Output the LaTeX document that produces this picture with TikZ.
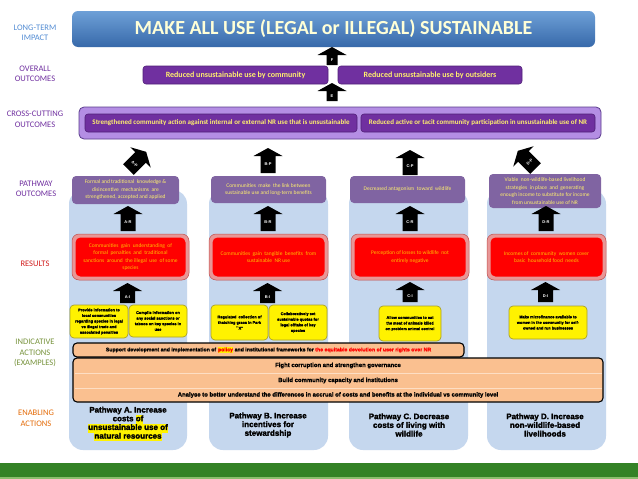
\documentclass[tikz,border=0pt]{standalone}
\usepackage{fontspec}
\setmainfont{Carlito}
\newfontfamily\arialf{Liberation Sans}
\newfontfamily\heavyf{Liberation Sans}[BoldFeatures={FakeBold=2}]
\newfontfamily\heavyg{Liberation Sans}[BoldFeatures={FakeBold=1.2}]
\definecolor{colblue}{RGB}{197,215,238}
\definecolor{pobg}{RGB}{128,100,162}
\definecolor{ovp}{RGB}{112,48,160}
\definecolor{ovpb}{RGB}{80,32,120}
\definecolor{lav}{RGB}{180,142,228}
\definecolor{lavb}{RGB}{90,60,140}
\definecolor{ytext}{RGB}{255,240,110}
\definecolor{otext}{RGB}{255,192,0}
\definecolor{rring}{RGB}{232,150,150}
\definecolor{rborder}{RGB}{192,80,77}
\definecolor{ybord}{RGB}{170,160,40}
\definecolor{peach}{RGB}{250,192,144}
\definecolor{peachl}{RGB}{253,222,196}
\definecolor{gbar}{RGB}{52,130,38}
\definecolor{gbarl}{RGB}{140,190,110}
\definecolor{ltblue}{RGB}{84,141,212}
\definecolor{lblpurple}{RGB}{112,48,160}
\definecolor{lblred}{RGB}{210,30,30}
\definecolor{lblgreen}{RGB}{119,147,60}
\definecolor{lblorange}{RGB}{228,108,10}
\definecolor{titletop}{RGB}{110,160,215}
\definecolor{titlebot}{RGB}{55,105,170}
\definecolor{titletext}{RGB}{255,255,215}
\newcommand\hlt[1]{{\setlength\fboxsep{0pt}\colorbox{yellow}{\strut#1}}}
\newcommand\barrow[7]{%
 \begin{scope}[shift={(#1,#2)},rotate=#3]
  \fill[black] (-#7,0) -- (-#7,-#6+8) -- (-14.5,-#6+8) -- (0,-#6) -- (14.5,-#6+8) -- (#7,-#6+8) -- (#7,0) -- cycle;
  \node[albl,rotate=#3] (#4) at (0,-#6/2+4) {#5};
 \end{scope}}
\begin{document}
\begin{tikzpicture}[x=1pt,y=-1pt,
 every node/.style={inner sep=0pt},
 col/.style={fill=colblue, rounded corners=14, minimum width=118, minimum height=260},
 pobox/.style={fill=pobg, rounded corners=4, text=ytext, align=center, font=\fontsize{5.5}{7.5}\selectfont},
 ovbox/.style={fill=ovp, draw=ovpb, line width=0.6, rounded corners=3, text=ytext, align=center, font=\bfseries\fontsize{8}{9}\selectfont},
 ccbox/.style={fill=ovp, draw=ovpb, line width=0.6, rounded corners=3, text=ytext, align=center, font=\bfseries\fontsize{7}{8}\selectfont},
 rout/.style={fill=rring, draw=rborder, line width=0.5, rounded corners=7},
 rin/.style={fill=red, rounded corners=5, text=otext, align=center, font=\fontsize{5.5}{7.4}\selectfont},
 actbox/.style={fill=yellow, draw=ybord, line width=0.7, rounded corners=4, align=center, font=\heavyg\bfseries\fontsize{3.9}{5.6}\selectfont},
 bar/.style={fill=peach, draw=black, line width=1.1, rounded corners=4},
 bartext/.style={font=\heavyg\bfseries\fontsize{5.95}{7}\selectfont},
 lbl/.style={align=center, font=\fontsize{8.5}{10.5}\selectfont},
 albl/.style={text=white, font=\arialf\bfseries\fontsize{4}{4}\selectfont},
 enab/.style={align=center, font=\heavyf\bfseries\fontsize{8}{8.7}\selectfont}]
\useasboundingbox (0,0) rectangle (638,479);
\fill[white] (0,0) rectangle (638,479);
% green bar
\fill[gbar] (0,463) rectangle (638,476.5);
\fill[gbarl] (0,476.5) rectangle (638,479);
% left labels
\node[lbl, text=ltblue] (lLT) at (35,33) {LONG-TERM\\IMPACT};
\node[lbl, text=lblpurple] (lOO) at (35,74) {OVERALL\\OUTCOMES};
\node[lbl, text=lblpurple] (lCC) at (35,119.5) {CROSS-CUTTING\\OUTCOMES};
\node[lbl, text=lblpurple] (lPO) at (36,189) {PATHWAY\\OUTCOMES};
\node[lbl, text=lblred] (lRE) at (35,264) {RESULTS};
\node[lbl, text=lblgreen] (lIA) at (35,353) {INDICATIVE\\ACTIONS\\(EXAMPLES)};
\node[lbl, text=lblorange] (lEA) at (36,418.5) {ENABLING\\ACTIONS};
% title
\node[rounded corners=6, top color=titletop, bottom color=titlebot, minimum width=523, minimum height=36, text=titletext, font=\bfseries\fontsize{20}{23}\selectfont] (title) at (333.5,29) {MAKE ALL USE (LEGAL or ILLEGAL) SUSTAINABLE};
% F and E arrows
\barrow{332}{65}{0}{arF}{F}{18}{5.5}
\barrow{332}{101}{0}{arE}{E}{18}{5.5}
% overall outcomes
\node[ovbox, minimum width=185, minimum height=18] (ovL) at (235.5,75) {Reduced unsustainable use by community};
\node[ovbox, minimum width=184, minimum height=18] (ovR) at (430,75) {Reduced unsustainable use by outsiders};
% cross-cutting
\node[fill=lav, draw=lavb, line width=0.8, rounded corners=5, minimum width=522, minimum height=32] (cc) at (340,123) {};
\node[ccbox, minimum width=272, minimum height=18] (ccL) at (221,123) {Strengthened community action against internal or external NR use that is unsustainable};
\node[ccbox, minimum width=234, minimum height=18] (ccR) at (478,123) {Reduced active or tacit community participation in unsustainable use of NR};
% columns
\node[col] (colA) at (128,320) {};
\node[col, minimum width=119] (colB) at (268.5,320) {};
\node[col, minimum width=119] (colC) at (408.5,320) {};
\node[col, minimum width=119] (colD) at (546.5,320) {};
% pathway arrows
\barrow{128.5}{169.5}{-45}{arAP}{A-P}{25}{7.5}
\barrow{268}{173}{0}{arBP}{B-P}{25}{7.5}
\barrow{410}{175}{0}{arCP}{C-P}{25}{7.5}
\barrow{535.5}{168.5}{45}{arDP}{D-P}{25}{7.5}
% pathway outcomes
\node[pobox, minimum width=107, minimum height=28] (pA) at (125.5,190) {Formal and traditional \ knowledge \&\\disincentive \ mechanisms \ are\\strengthened, accepted and applied};
\node[pobox, minimum width=115, minimum height=27] (pB) at (268.5,189.5) {Communities \ make \ the link between\\sustainable use and long-term benefits};
\node[pobox, minimum width=115, minimum height=27] (pC) at (407.5,189.5) {Decreased antagonism \ toward \ wildlife};
\node[pobox, minimum width=112, minimum height=34] (pD) at (545,191) {Viable \ non-wildlife-based livelihood\\strategies \ in place \ and \ generating\\enough income to substitute for income\\from unsustainable use of NR};
% result arrows
\barrow{128}{231}{0}{arAR}{A-R}{25}{7.5}
\barrow{268}{231}{0}{arBR}{B-R}{25}{7.5}
\barrow{410}{231}{0}{arCR}{C-R}{25}{7.5}
\barrow{546}{231}{0}{arDR}{D-R}{25}{7.5}
% results
\node[rout, minimum width=117, minimum height=46] (rA) at (130.5,257) {};
\node[rin, minimum width=110, minimum height=39] (rAi) at (130.5,257) {Communities \ gain \ understanding \ of\\formal \ penalties \ and \ traditional\\sanctions \ around \ the illegal \ use \ of some\\species};
\node[rout, minimum width=119, minimum height=46] (rB) at (268.5,257) {};
\node[rin, minimum width=112, minimum height=39] (rBi) at (268.5,257) {Communities \ gain \ tangible \ benefits \ from\\sustainable \ NR use};
\node[rout, minimum width=118, minimum height=46] (rC) at (410,257) {};
\node[rin, minimum width=111, minimum height=39] (rCi) at (410,257) {Perception of losses to wildlife \ not\\entirely negative};
\node[rout, minimum width=119, minimum height=46] (rD) at (546.5,257) {};
\node[rin, minimum width=112, minimum height=39] (rDi) at (546.5,257) {Incomes of \ community \ women cover\\basic \ household food \ needs};
% action arrows
\barrow{127.5}{303}{0}{arAI}{A-I}{20}{7.5}
\barrow{267.5}{303}{0}{arBI}{B-I}{20}{7.5}
\barrow{410}{302}{0}{arCI}{C-I}{20}{7.5}
\barrow{545.5}{302}{0}{arDI}{D-I}{20}{7.5}
% indicative actions
\node[actbox, minimum width=58, minimum height=33] (aA1) at (99,321.5) {Provide information to\\local communities\\regarding species in legal\\vs illegal trade and\\associated penalties};
\node[actbox, minimum width=58, minimum height=32] (aA2) at (158,321) {Compile information on\\any social sanctions or\\taboos on key species in\\use};
\node[actbox, minimum width=57, minimum height=35] (aB1) at (239.5,322.5) {Regulated \ collection of\\thatching grass in Park\\``X''};
\node[actbox, minimum width=58, minimum height=35] (aB2) at (298,322.5) {Collaboratively set\\sustainable quotas for\\legal offtake of key\\species};
\node[actbox, minimum width=62, minimum height=35] (aC1) at (410,323.5) {Allow communities to eat\\the meat of animals killed\\on problem animal control};
\node[actbox, minimum width=78, minimum height=33] (aD1) at (548,322.5) {Make microfinance available to\\women in the community for self-\\owned and run businesses};
% enabling bars
\node[bar, minimum width=391, minimum height=14] (sup) at (268.5,350) {};
\node[bartext, font=\heavyg\bfseries\fontsize{5.2}{6}\selectfont] (supt) at (268.5,350) {Support development and implementation of {\setlength\fboxsep{0.3pt}\colorbox{yellow}{\textcolor{red}{policy}}} and institutional frameworks for \textcolor{red}{the equitable devolution of user rights over NR}};
\node[bar, minimum width=530, minimum height=44] (big) at (338,380) {};
\draw[peachl, line width=0.9] (74.5,373) -- (601.5,373);
\draw[peachl, line width=0.9] (74.5,388) -- (601.5,388);
\node[bartext] (b1) at (338,365.5) {Fight corruption and strengthen governance};
\node[bartext] (b2) at (338,380.5) {Build community capacity and institutions};
\node[bartext] (b3) at (338,395) {Analyse to better understand the differences in accrual of costs and benefits at the individual vs community level};
% enabling actions
\node[enab] (eA) at (128,424) {Pathway A. Increase\\costs \hlt{of}\\\hlt{unsustainable use of}\\\hlt{natural resources}};
\node[enab] (eB) at (268,425) {Pathway B. Increase\\incentives for\\stewardship};
\node[enab] (eC) at (409,425) {Pathway C. Decrease\\costs of living with\\wildlife};
\node[enab] (eD) at (545,425) {Pathway D. Increase\\non-wildlife-based\\livelihoods};
\end{tikzpicture}
\end{document}
